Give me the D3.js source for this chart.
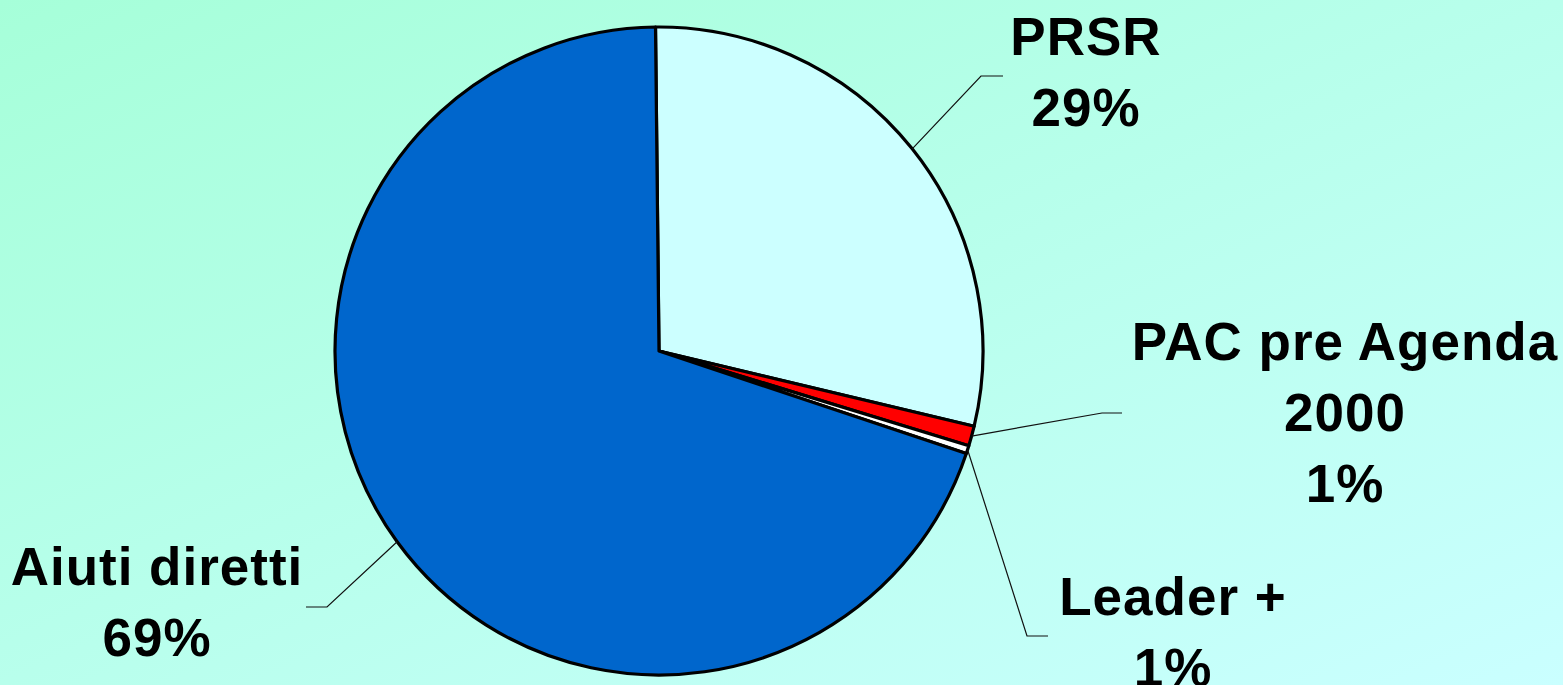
<!DOCTYPE html>
<html>
<head>
<meta charset="utf-8">
<script src="https://cdn.jsdelivr.net/npm/d3@7"></script>
<style>
  html, body { margin: 0; padding: 0; overflow: hidden; }
  text { font-family: "Liberation Sans", Arial, sans-serif; font-weight: bold; }
</style>
</head>
<body>
<div id="chart"></div>
<script>
// slice data (clockwise from the top)
const categories = ["PRSR", "PAC pre Agenda 2000", "Leader +", "Aiuti diretti"];
const values = [28.9, 1.0, 0.4, 69.7];
const pctLabels = ["29%", "1%", "1%", "69%"];
const colors = ["#ccffff", "#ff0000", "#ffffff", "#0066cc"];

// label text lines, kept apart from the numbers
const labelLines = [
  ["PRSR", "29%"],
  ["PAC pre Agenda", "2000", "1%"],
  ["Leader +", "1%"],
  ["Aiuti diretti", "69%"]
];

const width = 1563, height = 685;
const cx = 659, cy = 351, radius = 324;
const startAngle = -0.0108;

// label anchors (centre x, first baseline y) and leader line elbows
const labelLayout = [
  {x: 1086, y: 55, elbow: [981, 76], end: [1003, 76]},
  {x: 1345, y: 360, elbow: [1102, 413], end: [1122, 413]},
  {x: 1173, y: 615, elbow: [1027, 636], end: [1048, 636]},
  {x: 157, y: 585, elbow: [327, 607], end: [306, 607]}
];
const lineHeight = 71;

const svg = d3.select("#chart")
    .append("svg")
    .attr("width", width)
    .attr("height", height);

const grad = svg.append("defs").append("linearGradient")
    .attr("id", "bg")
    .attr("x1", 0).attr("y1", 0)
    .attr("x2", 1).attr("y2", 1);
grad.append("stop").attr("offset", "0%").attr("stop-color", "#a6ffd9");
grad.append("stop").attr("offset", "100%").attr("stop-color", "#caffff");

svg.append("rect")
    .attr("width", width)
    .attr("height", height)
    .attr("fill", "url(#bg)");

const data = categories.map((c, i) => ({name: c, value: values[i], i: i}));

const pie = d3.pie()
    .sort(null)
    .value(d => d.value)
    .startAngle(startAngle)
    .endAngle(startAngle + 2 * Math.PI);

const arcs = pie(data);

const arc = d3.arc()
    .innerRadius(0)
    .outerRadius(radius);

const g = svg.append("g")
    .attr("transform", `translate(${cx}, ${cy})`);

g.selectAll("path.slice")
    .data(arcs)
    .join("path")
    .attr("class", "slice")
    .attr("d", arc)
    .attr("fill", d => colors[d.data.i])
    .attr("stroke", "#000")
    .attr("stroke-width", 3.2)
    .attr("stroke-linejoin", "round");

// leader lines from the middle of each slice's rim
svg.selectAll("polyline.leader")
    .data(arcs)
    .join("polyline")
    .attr("class", "leader")
    .attr("fill", "none")
    .attr("stroke", "#111")
    .attr("stroke-width", 1.2)
    .attr("points", d => {
        const a = (d.startAngle + d.endAngle) / 2;
        const p0 = [cx + radius * Math.sin(a), cy - radius * Math.cos(a)];
        const L = labelLayout[d.data.i];
        return [p0, L.elbow, L.end].map(p => p.join(",")).join(" ");
    });

// labels
const labels = svg.selectAll("text.label")
    .data(arcs)
    .join("text")
    .attr("class", "label")
    .attr("text-anchor", "middle")
    .attr("font-size", 53)
    .attr("letter-spacing", 1)
    .attr("fill", "#000")
    .attr("x", d => labelLayout[d.data.i].x)
    .attr("y", d => labelLayout[d.data.i].y);

labels.selectAll("tspan")
    .data(d => {
        const lines = labelLines[d.data.i].slice();
        lines[lines.length - 1] = pctLabels[d.data.i];
        return lines.map((t, k) => ({t: t, k: k, x: labelLayout[d.data.i].x}));
    })
    .join("tspan")
    .attr("x", d => d.x)
    .attr("dy", d => d.k === 0 ? 0 : lineHeight)
    .text(d => d.t);
</script>
</body>
</html>
